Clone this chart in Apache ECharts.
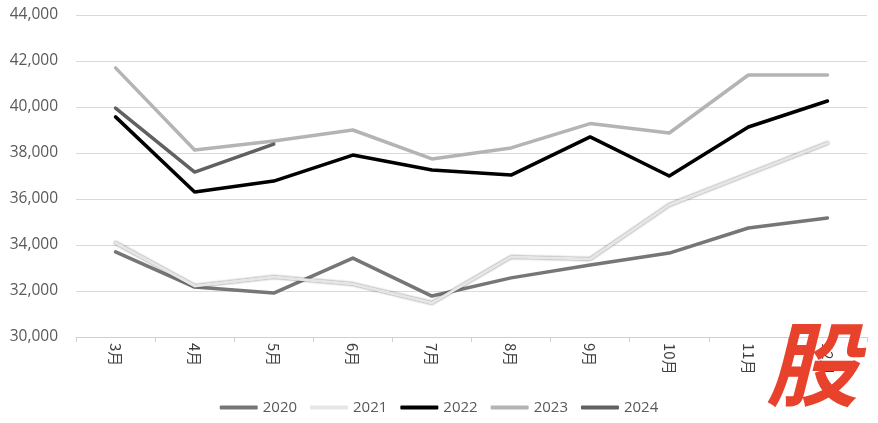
<!DOCTYPE html>
<html><head><meta charset="utf-8">
<script src="https://cdn.jsdelivr.net/npm/echarts@6/dist/echarts.min.js"></script>
<style>html,body{margin:0;padding:0;background:#fff}#c{width:878px;height:423px}</style>
</head><body><div id="c"></div>
<script>
const categories = ['3月','4月','5月','6月','7月','8月','9月','10月','11月','12月'];
const s2020 = [33700, 32170, 31910, 33430, 31780, 32570, 33130, 33650, 34740, 35170];
const s2021 = [34090, 32220, 32610, 32300, 31480, 33480, 33390, 35740, 37090, 38430];
const s2022 = [39570, 36300, 36780, 37910, 37260, 37040, 38700, 37000, 39130, 40260];
const s2023 = [41700, 38130, 38520, 39000, 37740, 38220, 39280, 38870, 41390, 41390];
const s2024 = [39950, 37170, 38390];
const yTicks = {min: 30000, max: 44000, interval: 2000};

const chart = echarts.init(document.getElementById('c'));
function mk(name, data, color, extra) {
  return Object.assign({
    name, type: 'line', data, symbol: 'none', smooth: false,
    lineStyle: {color, width: 3.5, cap: 'round', join: 'round'},
    itemStyle: {color}
  }, extra || {});
}
chart.setOption({
  animation: false,
  textStyle: {fontFamily: 'Open Sans, Noto Sans, sans-serif'},
  grid: {left: 76, right: 11, top: 15, bottom: 86},
  legend: {
    bottom: 3, left: 'center', itemWidth: 38, itemHeight: 4, itemGap: 13,
    icon: 'roundRect',
    textStyle: {color: '#595959', fontSize: 15, fontFamily: 'Open Sans, sans-serif'},
    data: ['2020','2021','2022','2023','2024']
  },
  xAxis: {
    type: 'category', data: categories, boundaryGap: true,
    axisLine: {lineStyle: {color: '#d0d0d0', width: 1}},
    axisTick: {show: true, length: 5, lineStyle: {color: '#d0d0d0'}},
    axisLabel: {rotate: -90, color: '#404040', fontSize: 15, margin: 6,
      fontFamily: 'Noto Sans CJK SC, sans-serif'}
  },
  yAxis: {
    type: 'value', min: yTicks.min, max: yTicks.max, interval: yTicks.interval,
    axisLine: {show: false}, axisTick: {show: false},
    splitLine: {lineStyle: {color: '#d9d9d9', width: 1}},
    axisLabel: {color: '#595959', fontSize: 15.5, margin: 18,
      formatter: v => v.toLocaleString('en-US')}
  },
  series: [
    mk('2020', s2020, '#767676'),
    mk('2021', s2021, '#e6e6e6', {lineStyle: {color: '#e6e6e6', width: 3, cap: 'round', join: 'round', shadowColor: 'rgba(0,0,0,0.55)', shadowBlur: 2}}),
    mk('2022', s2022, '#000000'),
    mk('2023', s2023, '#b4b4b4'),
    mk('2024', s2024, '#616161')
  ],
  graphic: [{
    type: 'text', right: 20, top: 318, z: 100,
    style: {text: '股', fill: '#e8412c', font: 'bold oblique 92px "Noto Sans CJK SC", sans-serif'}
  }]
});
</script></body></html>
